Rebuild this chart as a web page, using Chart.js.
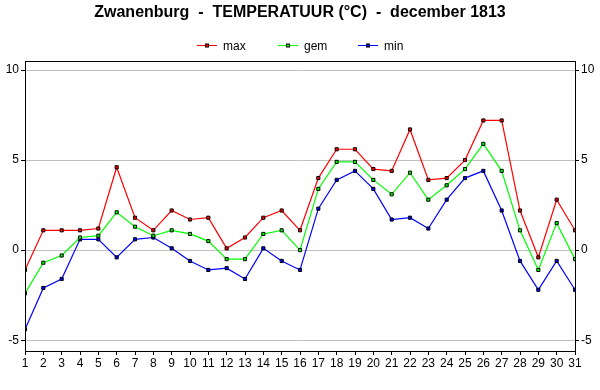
<!DOCTYPE html>
<html>
<head>
<meta charset="utf-8">
<script src="https://cdn.jsdelivr.net/npm/chart.js@4/dist/chart.umd.min.js"></script>
<style>
    html, body { margin: 0; padding: 0; background: #fff; }
    #wrap { width: 600px; height: 390px; }
</style>
</head>
<body>
<div id="wrap"><canvas id="chart" width="600" height="390"></canvas></div>
<script>
// Zwanenburg, december 1813 - daily temperatures (°C)
const days = [1, 2, 3, 4, 5, 6, 7, 8, 9, 10, 11, 12, 13, 14, 15, 16, 17, 18, 19, 20, 21, 22, 23, 24, 25, 26, 27, 28, 29, 30, 31];
const tMax = [-1.1, 1.1, 1.1, 1.1, 1.2, 4.6, 1.8, 1.1, 2.2, 1.7, 1.8, 0.1, 0.7, 1.8, 2.2, 1.1, 4.0, 5.6, 5.6, 4.5, 4.4, 6.7, 3.9, 4.0, 5.0, 7.2, 7.2, 2.2, -0.4, 2.8, 1.1];
const tGem = [-2.4, -0.7, -0.3, 0.7, 0.8, 2.1, 1.3, 0.8, 1.1, 0.9, 0.5, -0.5, -0.5, 0.9, 1.1, 0.0, 3.4, 4.9, 4.9, 3.9, 3.1, 4.3, 2.8, 3.6, 4.5, 5.9, 4.4, 1.1, -1.1, 1.5, -0.5];
const tMin = [-4.4, -2.1, -1.6, 0.6, 0.6, -0.4, 0.6, 0.7, 0.1, -0.6, -1.1, -1.0, -1.6, 0.1, -0.6, -1.1, 2.3, 3.9, 4.4, 3.4, 1.7, 1.8, 1.2, 2.8, 4.0, 4.4, 2.2, -0.6, -2.2, -0.6, -2.2];
const yTicks = [-5, 0, 5, 10];
const seriesNames = ['max', 'gem', 'min'];
const seriesColors = ['#ff0000', '#00ff00', '#0000ff'];

const FONT = '"Liberation Sans", Arial, sans-serif';

function toPoints(values) {
    return days.map((d, i) => ({ x: d, y: values[i] }));
}

function makeSet(name, values, color) {
    return {
        label: name,
        data: toPoints(values),
        borderColor: color,
        borderWidth: 1.2,
        backgroundColor: color,
        pointStyle: 'rect',
        pointRadius: 2.2,
        pointBorderColor: '#000',
        pointBorderWidth: 1,
        pointHoverRadius: 2.2,
        tension: 0
    };
}

// box round the plot area plus the line-and-marker legend
const frameAndLegend = {
    id: 'frameAndLegend',
    afterDraw(chart) {
        const ctx = chart.ctx;
        const a = chart.chartArea;
        ctx.save();
        ctx.strokeStyle = '#000';
        ctx.lineWidth = 1;
        ctx.strokeRect(Math.round(a.left) + 0.5, Math.round(a.top) + 0.5,
            Math.round(a.right - a.left), Math.round(a.bottom - a.top));

        const centers = [207, 288, 368];
        const y = 45.5;
        ctx.font = '12px ' + FONT;
        ctx.textBaseline = 'middle';
        ctx.textAlign = 'left';
        seriesNames.forEach((name, i) => {
            const cx = centers[i];
            ctx.strokeStyle = seriesColors[i];
            ctx.beginPath();
            ctx.moveTo(cx - 10, y);
            ctx.lineTo(cx + 10, y);
            ctx.stroke();
            ctx.fillStyle = seriesColors[i];
            ctx.fillRect(cx - 1.5, y - 1.5, 3, 3);
            ctx.strokeStyle = '#000';
            ctx.strokeRect(cx - 1.5, y - 1.5, 3, 3);
            ctx.fillStyle = '#000';
            ctx.fillText(name, cx + 16, y + 1);
        });
        ctx.restore();
    }
};

const yScale = (position, onChart) => ({
    type: 'linear',
    position: position,
    min: -5.6,
    max: 10.5,
    afterBuildTicks: (scale) => { scale.ticks = yTicks.map(v => ({ value: v })); },
    afterFit: (scale) => { scale.width = 25; },
    grid: {
        drawOnChartArea: onChart,
        color: '#c0c0c0',
        tickColor: '#000',
        tickLength: 4,
        lineWidth: 1
    },
    border: { display: true, color: '#000' },
    ticks: {
        color: '#000',
        padding: 2,
        font: { family: FONT, size: 12 }
    }
});

new Chart(document.getElementById('chart'), {
    type: 'line',
    data: {
        datasets: [
            makeSet(seriesNames[0], tMax, seriesColors[0]),
            makeSet(seriesNames[1], tGem, seriesColors[1]),
            makeSet(seriesNames[2], tMin, seriesColors[2])
        ]
    },
    options: {
        responsive: false,
        animation: false,
        devicePixelRatio: 1,
        layout: { padding: 0 },
        plugins: {
            legend: { display: false },
            tooltip: { enabled: false },
            title: {
                display: true,
                text: 'Zwanenburg  -  TEMPERATUUR (°C)  -  december 1813',
                color: '#000',
                font: { family: FONT, size: 16, weight: 'bold', lineHeight: 1.2 },
                padding: { top: 3, bottom: 38.8 }
            }
        },
        scales: {
            x: {
                type: 'linear',
                min: 1,
                max: 31,
                afterFit: (scale) => { scale.height = 39; },
                grid: {
                    drawOnChartArea: false,
                    tickColor: '#000',
                    tickLength: 4
                },
                border: { display: true, color: '#000' },
                ticks: {
                    stepSize: 1,
                    color: '#000',
                    padding: 1,
                    maxRotation: 0,
                    autoSkip: false,
                    font: { family: FONT, size: 12 }
                }
            },
            y: yScale('left', true),
            y2: yScale('right', false)
        }
    },
    plugins: [frameAndLegend]
});
</script>
</body>
</html>
